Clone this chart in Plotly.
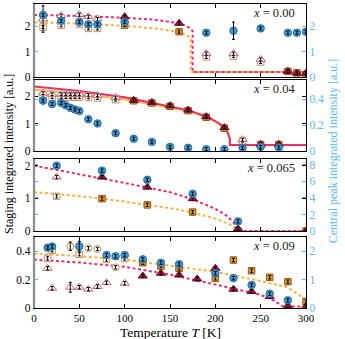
import plotly.graph_objects as go

# ---------------- x = 0.00 ----------------
T0_tri_open = [10, 30, 50, 60, 70, 190, 220, 250]
I0_tri_open = [2.28, 2.41, 2.45, 2.37, 2.28, 0.92, 0.92, 0.69]
T0_tri_fill = [100, 160, 280, 290, 300]
I0_tri_fill = [2.37, 2.11, 0.22, 0.15, 0.15]
T0_sq_open = [10, 30, 50, 60, 70, 190, 220, 250]
I0_sq_open = [1.96, 2.03, 2.07, 1.91, 1.91, 0.79, 0.82, 0.59]
T0_sq_fill = [100, 160, 280, 290, 300]
I0_sq_fill = [2.04, 1.78, 0.22, 0.16, 0.10]
T0_cp = [10, 30, 50, 60, 70, 100, 190, 220, 250, 280, 290, 300]
I0_cp = [2.44, 2.21, 2.17, 2.07, 2.07, 2.17, 1.74, 1.82, 1.91, 1.74, 1.74, 1.78]
T0_fit_red = [0, 50, 100, 130, 150, 165, 172, 175, 175, 300]
I0_fit_red = [2.44, 2.40, 2.33, 2.26, 2.17, 2.05, 1.92, 1.80, 0.20, 0.20]
T0_fit_org = [0, 50, 100, 130, 150, 165, 171, 173, 173, 300]
I0_fit_org = [2.15, 2.10, 2.01, 1.92, 1.83, 1.70, 1.58, 1.50, 0.20, 0.20]

# ---------------- x = 0.04 ----------------
T4_tri_open = [10, 20, 30, 35, 40, 45, 50, 60, 70, 90, 230]
I4_tri_open = [2.12, 2.08, 2.08, 2.08, 2.08, 2.08, 2.08, 2.06, 2.04, 1.96, 0.42]
T4_tri_fill = [110, 130, 150, 170, 190, 210, 250, 270]
I4_tri_fill = [1.86, 1.78, 1.66, 1.50, 1.26, 0.86, 0.25, 0.25]
T4_sq_open = [10, 20, 30, 35, 40, 45, 50, 60, 70, 90, 230]
I4_sq_open = [2.02, 1.97, 1.97, 1.97, 1.97, 1.97, 1.97, 1.96, 1.94, 1.88, 0.38]
T4_sq_fill = [110, 130, 150, 170, 190, 210, 250, 270]
I4_sq_fill = [1.84, 1.76, 1.64, 1.48, 1.24, 0.84, 0.24, 0.24]
T4_cp = [10, 20, 30, 35, 40, 45, 50, 60, 70, 90, 110, 130, 150, 170, 190, 210, 230, 250, 270]
I4_cp = [0.39, 0.365, 0.373, 0.355, 0.335, 0.322, 0.31, 0.247, 0.214, 0.139, 0.096, 0.071,
         0.033, 0.026, 0.015, 0.015, 0.026, 0.033, 0.028]
T4_fit_red = [0, 50, 100, 150, 170, 190, 200, 210, 214, 216, 216, 300]
I4_fit_red = [2.36, 2.20, 1.97, 1.65, 1.50, 1.27, 1.10, 0.88, 0.65, 0.45, 0.22, 0.22]
T4_fit_org = [0, 50, 100, 150, 170, 190, 200, 210, 214, 216, 216, 300]
I4_fit_org = [2.24, 2.10, 1.90, 1.60, 1.47, 1.24, 1.08, 0.86, 0.64, 0.45, 0.22, 0.22]

# ---------------- x = 0.065 ----------------
T65_tri_open = [25]
I65_tri_open = [1.65]
T65_tri_fill = [75, 125, 175, 225, 300]
I65_tri_fill = [1.65, 1.34, 0.99, 0.07, 0.0]
T65_sq_open = [25]
I65_sq_open = [1.06]
T65_sq_fill = [75, 125, 175, 225, 300]
I65_sq_fill = [0.99, 0.80, 0.58, 0.0, 0.0]
T65_cp = [25, 75, 125, 175, 225]
I65_cp = [7.9, 7.3, 6.2, 4.5, 1.17]
T65_fit_red = [0, 50, 100, 150, 175, 200, 212, 220, 225, 300]
I65_fit_red = [2.0, 1.74, 1.47, 1.19, 0.97, 0.68, 0.48, 0.27, 0.0, 0.0]
T65_fit_org = [0, 50, 100, 150, 175, 200, 215, 222, 225, 300]
I65_fit_org = [1.19, 1.07, 0.90, 0.70, 0.57, 0.38, 0.22, 0.10, 0.0, 0.0]

# ---------------- x = 0.09 ----------------
T9_tri_open = [15, 20, 40, 50, 60, 70, 80, 100]
I9_tri_open = [0.279, 0.139, 0.146, 0.146, 0.132, 0.151, 0.178, 0.174]
T9_tri_fill = [120, 140, 160, 180, 200, 220, 240, 260, 280, 300]
I9_tri_fill = [0.225, 0.244, 0.232, 0.204, 0.279, 0.132, 0.116, 0.081, 0.016, 0.011]
T9_sq_open = [15, 20, 50, 80, 100]
I9_sq_open = [0.348, 0.406, 0.378, 0.341, 0.348]
T9_sq_fill = [120, 140, 160, 200, 220, 240, 260, 280, 300]
I9_sq_fill = [0.318, 0.295, 0.279, 0.209, 0.337, 0.262, 0.216, 0.185, 0.046]
T9_circ_open = [40, 60, 70, 90]
I9_circ_open = [0.434, 0.42, 0.415, 0.286]
T9_cp = [15, 20, 50, 80, 90, 100, 120, 140, 160, 200, 220, 240, 260, 280]
I9_cp = [2.12, 2.16, 2.17, 1.86, 1.82, 1.86, 1.71, 1.59, 1.54, 1.22, 1.05, 0.81, 0.50, 0.27]
T9_fit_red = [0, 50, 100, 150, 200, 230, 250, 265, 275, 300]
I9_fit_red = [0.34, 0.32, 0.29, 0.235, 0.165, 0.125, 0.093, 0.05, 0.01, 0.01]
T9_fit_org = [0, 50, 100, 150, 200, 250, 280, 295, 300]
I9_fit_org = [0.383, 0.365, 0.34, 0.30, 0.255, 0.19, 0.145, 0.08, 0.035]

# larger error bars (the rest are small)
big_err = {
    (0, "tri_open", 10): 0.52, (0, "cp", 220): 0.34,
    (3, "tri_open", 40): 0.035, (3, "cp", 50): 0.17, (3, "circ_open", 40): 0.03,
}

panel_labels = ["0.00", "0.04", "0.065", "0.09"]
left_ranges = [[0, 2.87], [0, 2.6], [0, 2.2], [0, 0.5]]
right_ranges = [[0, 2.87], [0, 0.55], [0, 8.7], [0, 2.5]]
left_ticks = [[0, 1, 2], [0, 1, 2], [0, 1, 2], [0, 0.2, 0.4]]
right_ticks = [[0, 1, 2], [0, 0.2, 0.4], [0, 2, 4, 6, 8], [0, 1, 2]]
domains = [[0.76, 1.0], [0.516, 0.75], [0.253, 0.49], [0.0, 0.234]]
small_err_left = [0.06, 0.05, 0.05, 0.012]
small_err_right = [0.06, 0.012, 0.2, 0.06]

panels = [
    dict(tri_open=(T0_tri_open, I0_tri_open), tri_fill=(T0_tri_fill, I0_tri_fill),
         sq_open=(T0_sq_open, I0_sq_open), sq_fill=(T0_sq_fill, I0_sq_fill),
         cp=(T0_cp, I0_cp), red=(T0_fit_red, I0_fit_red), org=(T0_fit_org, I0_fit_org)),
    dict(tri_open=(T4_tri_open, I4_tri_open), tri_fill=(T4_tri_fill, I4_tri_fill),
         sq_open=(T4_sq_open, I4_sq_open), sq_fill=(T4_sq_fill, I4_sq_fill),
         cp=(T4_cp, I4_cp), red=(T4_fit_red, I4_fit_red), org=(T4_fit_org, I4_fit_org)),
    dict(tri_open=(T65_tri_open, I65_tri_open), tri_fill=(T65_tri_fill, I65_tri_fill),
         sq_open=(T65_sq_open, I65_sq_open), sq_fill=(T65_sq_fill, I65_sq_fill),
         cp=(T65_cp, I65_cp), red=(T65_fit_red, I65_fit_red), org=(T65_fit_org, I65_fit_org)),
    dict(tri_open=(T9_tri_open, I9_tri_open), tri_fill=(T9_tri_fill, I9_tri_fill),
         sq_open=(T9_sq_open, I9_sq_open), sq_fill=(T9_sq_fill, I9_sq_fill),
         circ_open=(T9_circ_open, I9_circ_open),
         cp=(T9_cp, I9_cp), red=(T9_fit_red, I9_fit_red), org=(T9_fit_org, I9_fit_org)),
]

RED = "#e6306a"
ORANGE = "#f7b240"
BLUE = "#3d9ad6"
BLUE_AX = "#5ab8ee"
FONT = "Liberation Serif"

styles = {
    "tri_open": dict(symbol="triangle-up", size=8, color="white", line=dict(color="#c56676", width=1)),
    "tri_fill": dict(symbol="triangle-up", size=8, color="#a8143f", line=dict(color="#6e0a26", width=1)),
    "sq_open": dict(symbol="square", size=6.5, color="white", line=dict(color="#c79160", width=1)),
    "sq_fill": dict(symbol="square", size=6.5, color="#e89c30", line=dict(color="#8a5818", width=1)),
    "circ_open": dict(symbol="circle", size=7, color="white", line=dict(color="#c79160", width=1)),
    "cp": dict(symbol="circle", size=7.5, color=BLUE, line=dict(color="#2a6e9e", width=1)),
}


def nm(base, n):
    return base if n == 1 else f"{base}{n}"


fig = go.Figure()
layout = {}

for p, d in enumerate(panels):
    xn = p + 1
    yl = 2 * p + 1
    yr = 2 * p + 2
    xref, ylref, yrref = nm("x", xn), nm("y", yl), nm("y", yr)
    line_dash = "solid" if p == 1 else "3px,2.5px"

    for key, col in (("org", ORANGE), ("red", RED)):
        t, v = d[key]
        fig.add_trace(go.Scatter(x=t, y=v, mode="lines", xaxis=xref, yaxis=ylref,
                                 line=dict(color=col, width=2, dash=line_dash),
                                 showlegend=False, hoverinfo="skip"))

    for key in ("sq_open", "sq_fill", "circ_open", "tri_open", "tri_fill", "cp"):
        if key not in d:
            continue
        t, v = d[key]
        yax = yrref if key == "cp" else ylref
        small = small_err_right[p] if key == "cp" else small_err_left[p]
        err = [big_err.get((p, key, ti), small) for ti in t]
        fig.add_trace(go.Scatter(x=t, y=v, mode="markers", xaxis=xref, yaxis=yax,
                                 marker=styles[key], showlegend=False))
        # error bars drawn on top of the markers
        fig.add_trace(go.Scatter(x=t, y=v, mode="markers", xaxis=xref, yaxis=yax,
                                 marker=dict(size=1, color="black", opacity=0),
                                 error_y=dict(type="data", array=err, color="black",
                                              thickness=1, width=1.5),
                                 showlegend=False, hoverinfo="skip"))

    layout[nm("xaxis", xn)] = dict(
        domain=[0, 1], anchor=ylref, range=[0, 300], tickvals=[0, 50, 100, 150, 200, 250, 300],
        ticks="inside", ticklen=4, tickcolor="black", showline=True, linecolor="black",
        linewidth=1.2, mirror="ticks", showgrid=False, zeroline=False,
        showticklabels=(p == 3), tickfont=dict(family=FONT, size=11, color="black"))
    layout[nm("yaxis", yl)] = dict(
        domain=domains[p], anchor=xref, range=left_ranges[p], tickvals=left_ticks[p],
        ticks="inside", ticklen=4, tickcolor="black", showline=True, linecolor="black",
        linewidth=1.2, mirror="ticks", showgrid=False, zeroline=False,
        tickfont=dict(family=FONT, size=11.5, color="black"))
    layout[nm("yaxis", yr)] = dict(
        overlaying=ylref, side="right", anchor=xref, range=right_ranges[p],
        tickvals=right_ticks[p], ticks="inside", ticklen=4, tickcolor=BLUE_AX,
        showline=True, linecolor="black", linewidth=1.2, mirror="ticks",
        showgrid=False, zeroline=False, tickfont=dict(family=FONT, size=11.5, color=BLUE_AX))

shapes = []
annotations = []
for p in range(4):
    shapes.append(dict(type="line", xref="paper", x0=0, x1=0,
                       yref=f"{nm('y', 2 * p + 1)} domain", y0=0, y1=1,
                       line=dict(color="#8c8c8c", width=2.2), layer="above"))
    annotations.append(dict(text=f"<i>x</i> = {panel_labels[p]}", xref="paper",
                            x=0.968, xanchor="right", yref=f"{nm('y', 2 * p + 1)} domain",
                            y=0.87, yanchor="middle", showarrow=False,
                            font=dict(family=FONT, size=12.5, color="#222")))

annotations += [
    dict(text="Staging integrated intensity [a.u.]", xref="paper", yref="paper",
         x=-0.09, y=0.505, textangle=-90, showarrow=False, xanchor="center", yanchor="middle",
         font=dict(family=FONT, size=12, color="black")),
    dict(text="Central peak integrated intensity [a.u.]", xref="paper", yref="paper",
         x=1.1, y=0.516, textangle=-90, showarrow=False, xanchor="center", yanchor="middle",
         font=dict(family=FONT, size=12, color=BLUE_AX)),
    dict(text="Temperature <i>T</i> [K]", xref="paper", yref="paper",
         x=0.5, y=-0.081, showarrow=False, xanchor="center", yanchor="middle",
         font=dict(family=FONT, size=13.5, color="black")),
]

fig.update_layout(
    width=345, height=339,
    margin=dict(l=34, r=39, t=4, b=31),
    paper_bgcolor="white", plot_bgcolor="white",
    shapes=shapes, annotations=annotations,
    **layout,
)

fig.write_html("out.html", config={"displayModeBar": False},
               post_script="document.body.style.margin = '0px';")
